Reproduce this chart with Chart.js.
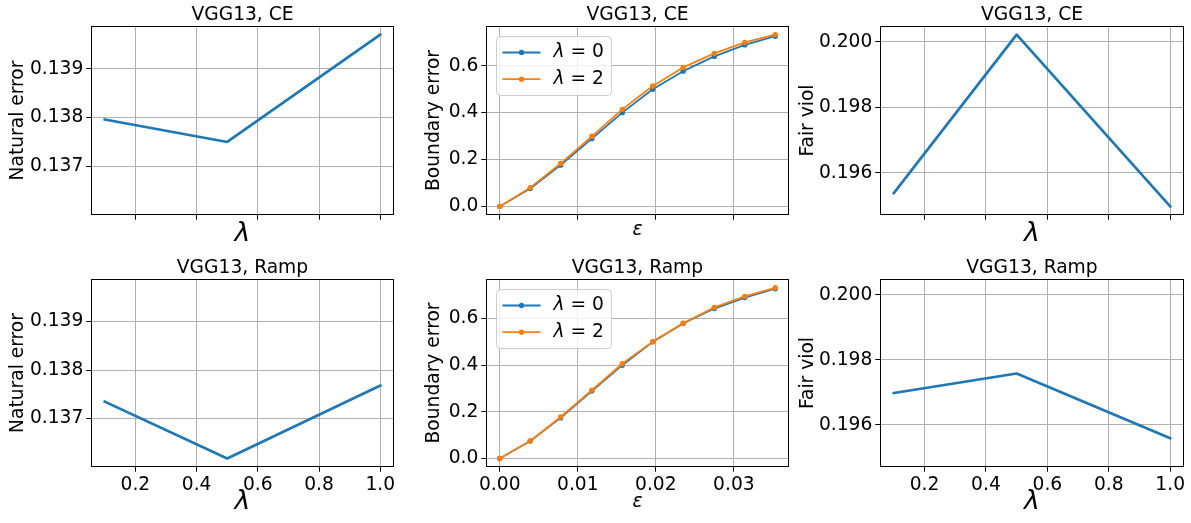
<!DOCTYPE html>
<html>
<head>
<meta charset="utf-8">
<script src="https://cdn.jsdelivr.net/npm/chart.js@4.4.0/dist/chart.umd.min.js"></script>
<style>
  html, body { margin: 0; padding: 0; background: #fff; overflow: hidden; }
  #fig { position: relative; width: 1191px; height: 523px; }
  #fig canvas { position: absolute; }
</style>
</head>
<body>
<div id="fig">
  <canvas id="nat_ce"></canvas>
  <canvas id="bnd_ce"></canvas>
  <canvas id="fair_ce"></canvas>
  <canvas id="nat_ramp"></canvas>
  <canvas id="bnd_ramp"></canvas>
  <canvas id="fair_ramp"></canvas>
</div>
<script>
// lambda sweep
var lambdas = [0.1, 0.5, 1.0];
var naturalErrorCE   = [0.13796, 0.13750, 0.13970];
var naturalErrorRamp = [0.13735, 0.13618, 0.13768];
var fairViolCE   = [0.19538, 0.20022, 0.19497];
var fairViolRamp = [0.19698, 0.19758, 0.19559];

// epsilon sweep
var epsilons = [0, 0.0039, 0.0078, 0.0118, 0.0157, 0.0196, 0.0235, 0.0275, 0.0314, 0.0353];
var boundaryCE0   = [0, 0.076, 0.176, 0.289, 0.400, 0.500, 0.577, 0.640, 0.689, 0.726];
var boundaryCE2   = [0, 0.080, 0.183, 0.299, 0.414, 0.514, 0.593, 0.653, 0.700, 0.733];
var boundaryRamp0 = [0, 0.075, 0.174, 0.289, 0.400, 0.500, 0.579, 0.643, 0.690, 0.728];
var boundaryRamp2 = [0, 0.075, 0.178, 0.293, 0.406, 0.501, 0.580, 0.648, 0.695, 0.732];

// tick labels
var lambdaTicks   = [0.2, 0.4, 0.6, 0.8, 1.0];
var epsTicks      = [0, 0.01, 0.02, 0.03];
var naturalTicks  = [0.137, 0.138, 0.139];
var fairTicks     = [0.196, 0.198, 0.200];
var boundaryTicks = [0, 0.2, 0.4, 0.6];

Chart.defaults.font.family = "'DejaVu Sans', sans-serif";
Chart.defaults.font.size = 18.67;
Chart.defaults.color = '#000';

var BLUE = '#1f77b4', ORANGE = '#ff7f0e';

// 5% margins on each side, same as matplotlib autoscale
function padRange(values) {
  var lo = Math.min.apply(null, values), hi = Math.max.apply(null, values);
  var m = (hi - lo) * 0.05;
  return [lo - m, hi + m];
}

function points(xs, ys) {
  return xs.map(function (x, i) { return { x: x, y: ys[i] }; });
}

// axes box edges in page pixels
var cols = [
  { left: 91,  width: 303, right: 30, yTitlePad: 9.2 },
  { left: 486, width: 303, right: 30, yTitlePad: 30.2 },
  { left: 880, width: 304, right: 7,  yTitlePad: 10.2 }
];
var rows = [
  { top: 26,  height: 189, below: 38, tickLabels: false, lamPad: 5.6, epsPad: 13.5 },
  { top: 279, height: 188, below: 56, tickLabels: true,  lamPad: 7.1, epsPad: 11.8 }
];
var Y_AXIS_W = 91, TITLE_H = 26;

// four spines around the plot area
var frame = {
  id: 'frame',
  afterDraw: function (chart) {
    var a = chart.chartArea, ctx = chart.ctx;
    ctx.save();
    ctx.strokeStyle = '#000';
    ctx.lineWidth = 1;
    ctx.strokeRect(a.left + 0.5, a.top + 0.5, a.right - a.left - 1, a.bottom - a.top - 1);
    ctx.restore();
  }
};

// legend box in the upper left corner of the plot area
var insetLegend = {
  id: 'insetLegend',
  afterDatasetsDraw: function (chart, args, opts) {
    if (!opts.show) return;
    var a = chart.chartArea, ctx = chart.ctx;
    var x0 = Math.round(a.left + 10) + 0.5, y0 = Math.round(a.top + 9.5) + 0.5;
    ctx.save();
    ctx.beginPath();
    ctx.roundRect(x0, y0, 115, 59, 4);
    ctx.fillStyle = 'rgba(255,255,255,0.8)';
    ctx.fill();
    ctx.strokeStyle = '#cccccc';
    ctx.lineWidth = 1;
    ctx.stroke();
    chart.data.datasets.forEach(function (ds, i) {
      var cy = y0 + 16 + i * 26.7;
      ctx.strokeStyle = ds.borderColor;
      ctx.lineWidth = ds.borderWidth;
      ctx.beginPath();
      ctx.moveTo(x0 + 6, cy);
      ctx.lineTo(x0 + 44, cy);
      ctx.stroke();
      ctx.fillStyle = ds.borderColor;
      ctx.beginPath();
      ctx.arc(x0 + 25, cy, ds.pointRadius, 0, Math.PI * 2);
      ctx.fill();
      // first character is the italic lambda
      var tx = x0 + 57;
      ctx.fillStyle = '#000';
      ctx.textBaseline = 'middle';
      ctx.font = "italic 18.67px 'DejaVu Sans'";
      ctx.fillText(ds.label.charAt(0), tx, cy);
      tx += ctx.measureText(ds.label.charAt(0)).width;
      ctx.font = "18.67px 'DejaVu Sans'";
      ctx.fillText(ds.label.slice(1), tx, cy);
    });
    ctx.restore();
  }
};

function panel(id, c, r, o) {
  var col = cols[c], row = rows[r];
  var canvas = document.getElementById(id);
  var w = Y_AXIS_W + col.width + col.right;
  var h = TITLE_H + row.height + row.below;
  canvas.width = w;
  canvas.height = h;
  canvas.style.left = (col.left - Y_AXIS_W) + 'px';
  canvas.style.top = (row.top - TITLE_H) + 'px';

  // bottom axis titles are offset from the canvas bottom by padding.bottom
  var xTitle = o.eps
    ? { display: true, text: 'ε', font: { size: 18.67, style: 'italic', lineHeight: 1 }, padding: { top: 0, bottom: row.epsPad } }
    : { display: true, text: 'λ', font: { size: 26.7, style: 'italic', lineHeight: 1 }, padding: { top: 0, bottom: row.lamPad } };

  return new Chart(canvas, {
    type: 'line',
    data: { datasets: o.datasets },
    options: {
      responsive: false,
      animation: false,
      events: [],
      layout: { padding: { left: 0, top: 0, right: col.right, bottom: 0 } },
      plugins: {
        legend: { display: false },
        tooltip: { enabled: false },
        title: {
          display: true,
          text: o.title,
          fullSize: false,
          font: { size: 18.67, weight: 'normal', lineHeight: 1 },
          padding: { top: 6.2, bottom: TITLE_H - 18.67 - 6.2 }
        },
        insetLegend: { show: !!o.legend }
      },
      scales: {
        x: {
          type: 'linear',
          min: o.xRange[0],
          max: o.xRange[1],
          afterBuildTicks: function (s) { s.ticks = o.xTicks.map(function (v) { return { value: v }; }); },
          afterFit: function (s) { s.height = row.below; },
          ticks: {
            autoSkip: false, maxRotation: 0, minRotation: 0, padding: 2,
            callback: function (v) { return row.tickLabels ? v.toFixed(o.xDigits) : ''; }
          },
          grid: { color: '#b0b0b0', lineWidth: 1, tickColor: '#000', tickWidth: 1, tickLength: 4.7 },
          border: { display: false },
          title: xTitle
        },
        y: {
          type: 'linear',
          min: o.yRange[0],
          max: o.yRange[1],
          afterBuildTicks: function (s) { s.ticks = o.yTicks.map(function (v) { return { value: v }; }); },
          afterFit: function (s) { s.width = Y_AXIS_W; },
          ticks: {
            autoSkip: false, padding: 3,
            callback: function (v) { return v.toFixed(o.yDigits); }
          },
          grid: { color: '#b0b0b0', lineWidth: 1, tickColor: '#000', tickWidth: 1, tickLength: 4.7 },
          border: { display: false },
          title: {
            display: true, text: o.yTitle,
            font: { size: 18.67, lineHeight: 1 },
            padding: { top: col.yTitlePad, bottom: 0 }
          }
        }
      }
    },
    plugins: [frame, insetLegend]
  });
}

function lambdaLine(values) {
  return {
    label: '', data: points(lambdas, values),
    borderColor: BLUE, borderWidth: 2.7, pointRadius: 0,
    borderCapStyle: 'square', borderJoinStyle: 'round', tension: 0
  };
}

function epsLine(label, values, color, order) {
  return {
    label: label, data: points(epsilons, values), order: order,
    borderColor: color, backgroundColor: color, borderWidth: 1.8,
    pointRadius: 2.7, pointBorderWidth: 0, pointBackgroundColor: color,
    borderJoinStyle: 'round', tension: 0
  };
}

var lamRange = padRange(lambdas);
var epsRange = padRange(epsilons);
var natRange = padRange(naturalErrorCE.concat(naturalErrorRamp));
var fairRange = padRange(fairViolCE.concat(fairViolRamp));
var bndRange = padRange(boundaryCE0.concat(boundaryCE2, boundaryRamp0, boundaryRamp2));

var lamAxes = { xRange: lamRange, xTicks: lambdaTicks, xDigits: 1 };
var epsAxes = { eps: true, xRange: epsRange, xTicks: epsTicks, xDigits: 2, yRange: bndRange, yTicks: boundaryTicks, yDigits: 1, yTitle: 'Boundary error', legend: true };

function merge(a, b) { return Object.assign({}, a, b); }

panel('nat_ce', 0, 0, merge(lamAxes, {
  title: 'VGG13, CE', yTitle: 'Natural error', yRange: natRange, yTicks: naturalTicks, yDigits: 3,
  datasets: [lambdaLine(naturalErrorCE)]
}));
panel('bnd_ce', 1, 0, merge(epsAxes, {
  title: 'VGG13, CE',
  datasets: [epsLine('λ = 0', boundaryCE0, BLUE, 1), epsLine('λ = 2', boundaryCE2, ORANGE, 0)]
}));
panel('fair_ce', 2, 0, merge(lamAxes, {
  title: 'VGG13, CE', yTitle: 'Fair viol', yRange: fairRange, yTicks: fairTicks, yDigits: 3,
  datasets: [lambdaLine(fairViolCE)]
}));
panel('nat_ramp', 0, 1, merge(lamAxes, {
  title: 'VGG13, Ramp', yTitle: 'Natural error', yRange: natRange, yTicks: naturalTicks, yDigits: 3,
  datasets: [lambdaLine(naturalErrorRamp)]
}));
panel('bnd_ramp', 1, 1, merge(epsAxes, {
  title: 'VGG13, Ramp',
  datasets: [epsLine('λ = 0', boundaryRamp0, BLUE, 1), epsLine('λ = 2', boundaryRamp2, ORANGE, 0)]
}));
panel('fair_ramp', 2, 1, merge(lamAxes, {
  title: 'VGG13, Ramp', yTitle: 'Fair viol', yRange: fairRange, yTicks: fairTicks, yDigits: 3,
  datasets: [lambdaLine(fairViolRamp)]
}));
</script>
</body>
</html>
